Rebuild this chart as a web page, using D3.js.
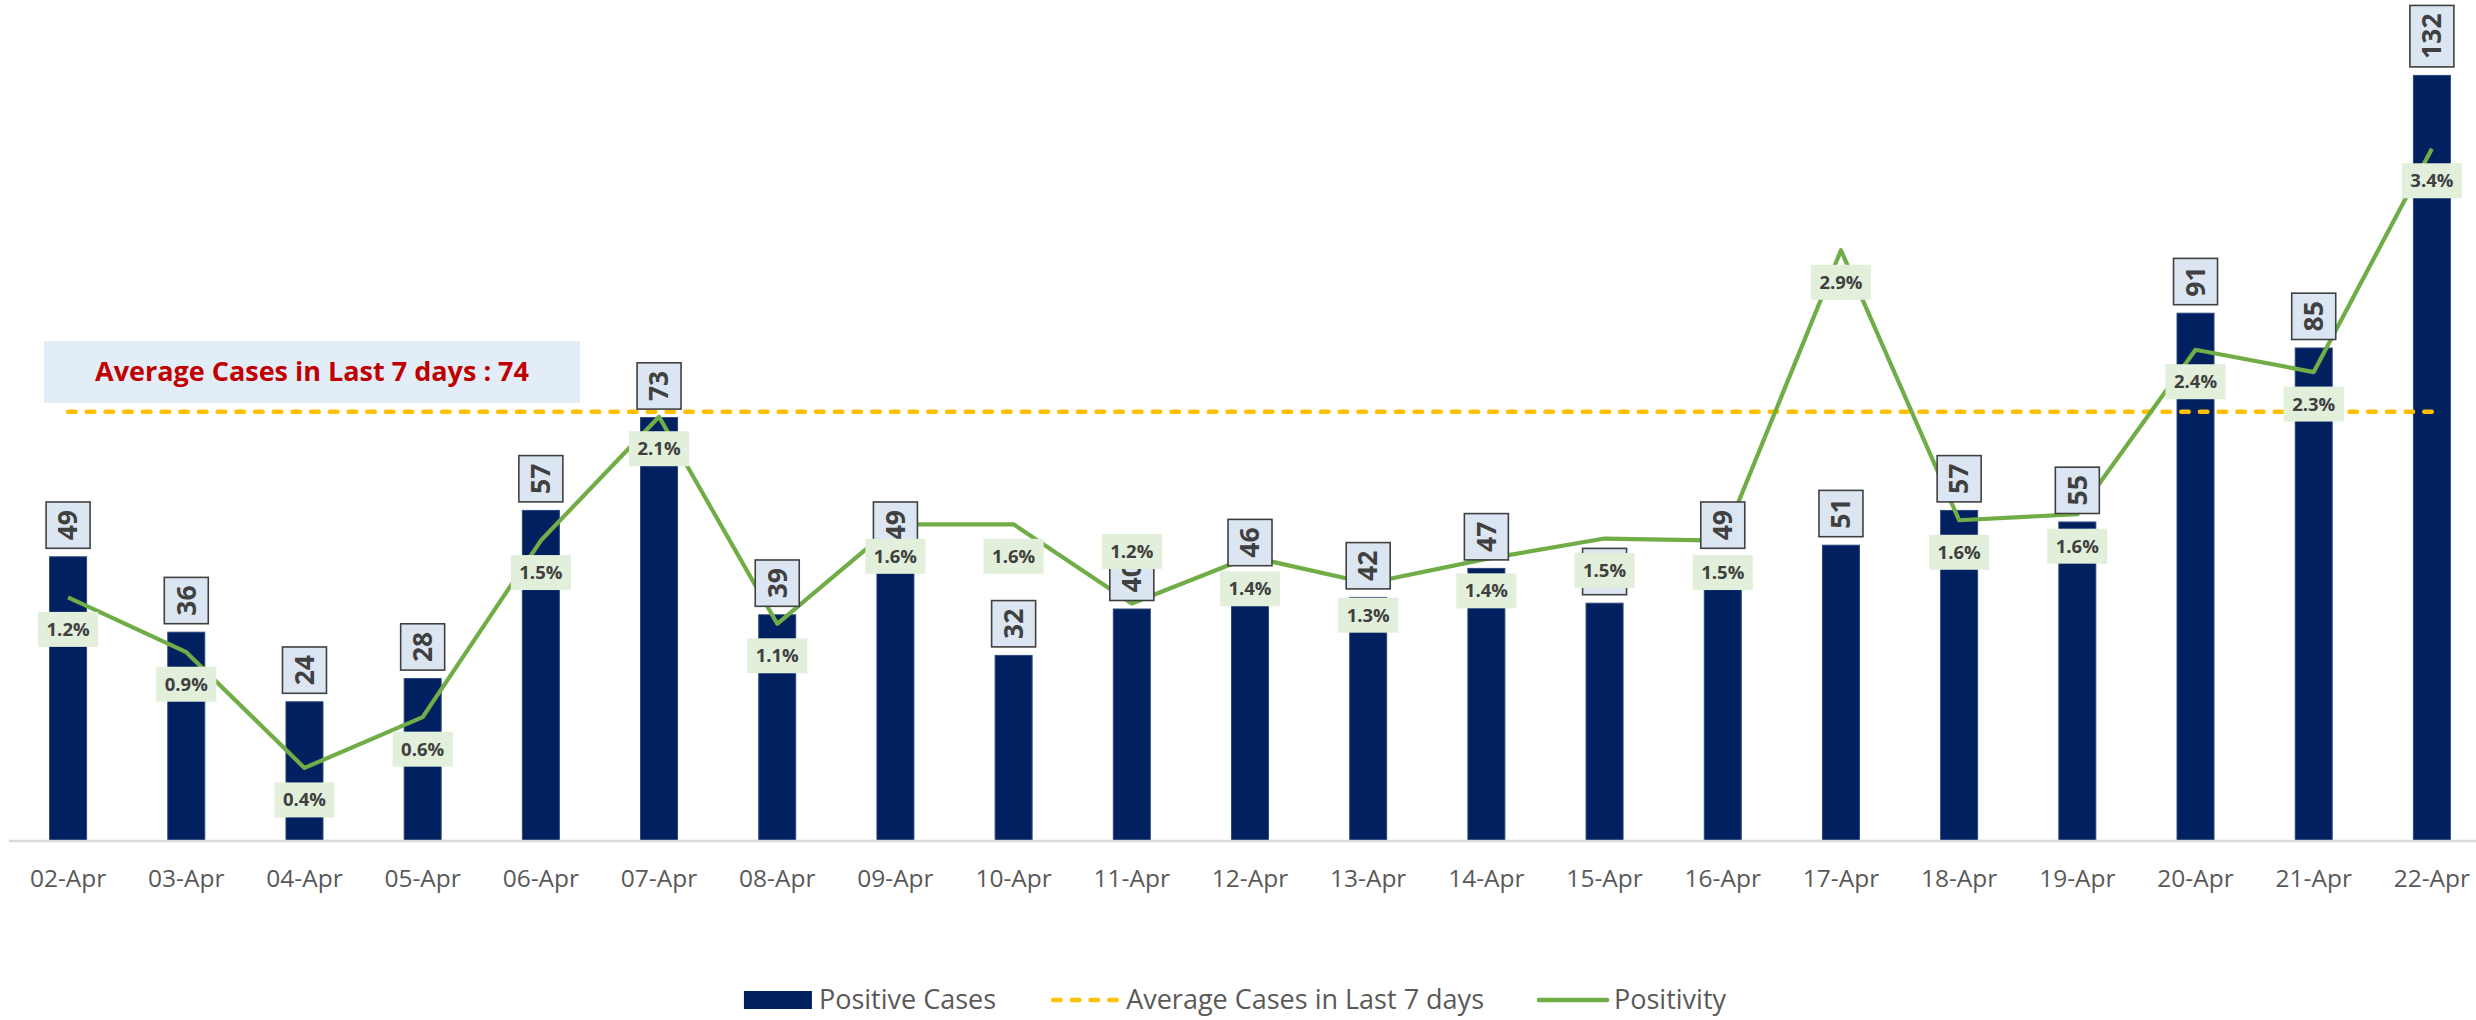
<!DOCTYPE html>
<html>
<head>
<meta charset="utf-8">
<script src="https://cdn.jsdelivr.net/npm/d3@7"></script>
<style>
  html, body { margin: 0; padding: 0; background: #ffffff; }
  svg { display: block; font-family: "Open Sans", "DejaVu Sans", sans-serif; }
</style>
</head>
<body>
<svg id="chart" width="2476" height="1020"></svg>
<script>
// ---- data ----
const categories = ["02-Apr","03-Apr","04-Apr","05-Apr","06-Apr","07-Apr","08-Apr","09-Apr","10-Apr","11-Apr","12-Apr","13-Apr","14-Apr","15-Apr","16-Apr","17-Apr","18-Apr","19-Apr","20-Apr","21-Apr","22-Apr"];
const positiveCases = [49,36,24,28,57,73,39,49,32,40,46,42,47,41,49,51,57,55,91,85,132];
const positivity = [1.20,0.93,0.36,0.61,1.48,2.09,1.07,1.56,1.56,1.17,1.40,1.27,1.39,1.49,1.48,2.91,1.58,1.61,2.42,2.31,3.41];
const averageLast7 = 74;
const averageLabel = "Average Cases in Last 7 days : 74";
const legendLabels = ["Positive Cases","Average Cases in Last 7 days","Positivity"];
const positivityAboveLabels = ["11-Apr"];

// ---- layout ----
const W = 2476, H = 1020;
const baseY = 841, topY = 29;
const svg = d3.select("#chart");

const x = d3.scaleBand().domain(categories).range([9, 2491]).paddingInner(0.687).paddingOuter(0.3435);
const y = d3.scaleLinear().domain([0, 140]).range([baseY, topY]);
const y2 = d3.scaleLinear().domain([0, 4]).range([baseY, topY]);
const cx = d => x(d) + x.bandwidth() / 2;

const COL_BAR = "#002060", COL_LINE = "#70ad47", COL_AVG = "#ffc000";

// bars
svg.append("g").selectAll("rect").data(categories).join("rect")
  .attr("x", d => x(d)).attr("width", x.bandwidth())
  .attr("y", (d, i) => y(positiveCases[i]))
  .attr("height", (d, i) => baseY - y(positiveCases[i]))
  .attr("fill", COL_BAR).attr("stroke", "#2c4779").attr("stroke-width", 1);

// x axis
const axis = svg.append("g").attr("transform", `translate(0,${baseY})`)
  .call(d3.axisBottom(x).tickSize(0).tickPadding(0));
axis.select(".domain").attr("stroke", "#d9d9d9").attr("stroke-width", 2.5).attr("d", `M9,0H${W + 10}`);
axis.selectAll(".tick text").attr("y", 37).attr("dy", "0.35em")
  .attr("font-family", "Open Sans").attr("font-size", 24.5).attr("fill", "#595959");

// average line
svg.append("line")
  .attr("x1", cx(categories[0])).attr("x2", cx(categories[categories.length - 1]))
  .attr("y1", y(averageLast7)).attr("y2", y(averageLast7))
  .attr("stroke", COL_AVG).attr("stroke-width", 4.5)
  .attr("stroke-dasharray", "7.5,11.2").attr("stroke-linecap", "round");

// average label
const avgG = svg.append("g");
avgG.append("rect").attr("x", 44).attr("y", 341).attr("width", 536).attr("height", 62).attr("fill", "#e3edf7");
avgG.append("text").attr("x", 312).attr("y", 372).attr("dy", "0.35em").attr("text-anchor", "middle")
  .attr("font-size", 27).attr("font-weight", 700).attr("fill", "#c00000").text(averageLabel);

// positivity line
svg.append("path")
  .datum(categories)
  .attr("fill", "none").attr("stroke", COL_LINE).attr("stroke-width", 4.2).attr("stroke-linejoin", "round")
  .attr("d", d3.line().x(d => cx(d)).y((d, i) => y2(positivity[i])));

// bar value labels (rotated)
const bl = svg.append("g").selectAll("g").data(categories).join("g");
bl.each(function(d, i) {
  const g = d3.select(this);
  const rect = g.append("rect");
  const t = g.append("text").text(positiveCases[i])
    .attr("font-size", 26.5).attr("font-weight", 700).attr("fill", "#404040")
    .attr("text-anchor", "middle").attr("dy", "0.35em");
  const len = t.node().getComputedTextLength();
  const h = len + 16, w = 44;
  const bottom = y(positiveCases[i]) - 8.5;
  const ccx = cx(d), ccy = bottom - h / 2;
  rect.attr("x", ccx - w / 2).attr("y", bottom - h).attr("width", w).attr("height", h)
    .attr("fill", "#dce6f2").attr("stroke", "#404040").attr("stroke-width", 1.6);
  t.attr("transform", `translate(${ccx},${ccy}) rotate(-90)`);
});

// positivity labels
const pl = svg.append("g").selectAll("g").data(categories).join("g");
pl.each(function(d, i) {
  const g = d3.select(this);
  const rect = g.append("rect");
  const t = g.append("text").text(positivity[i].toFixed(1) + "%")
    .attr("font-size", 18.5).attr("font-weight", 700).attr("fill", "#404040")
    .attr("text-anchor", "middle").attr("dy", "0.35em");
  const len = t.node().getComputedTextLength();
  const w = len + 17, h = 35;
  const py = y2(positivity[i]);
  const ly = positivityAboveLabels.includes(d) ? py - 52 : py + 32;
  rect.attr("x", cx(d) - w / 2).attr("y", ly - h / 2).attr("width", w).attr("height", h).attr("fill", "#e2efda");
  t.attr("x", cx(d)).attr("y", ly);
});

// legend
const leg = svg.append("g");
const legY = 1000;
const symW = 68, symGap = 7, itemGap = 55;
let cursor = 0;
legendLabels.forEach((lab, k) => {
  const g = leg.append("g");
  if (k === 0) {
    g.append("rect").attr("x", 0).attr("y", legY - 9).attr("width", symW).attr("height", 18).attr("fill", COL_BAR);
  } else if (k === 1) {
    g.append("line").attr("x1", 2).attr("x2", symW).attr("y1", legY).attr("y2", legY)
      .attr("stroke", COL_AVG).attr("stroke-width", 4.5).attr("stroke-dasharray", "7.5,11.2").attr("stroke-linecap", "round");
  } else {
    g.append("line").attr("x1", 0).attr("x2", symW).attr("y1", legY).attr("y2", legY)
      .attr("stroke", COL_LINE).attr("stroke-width", 4.5).attr("stroke-linecap", "round");
  }
  const t = g.append("text").attr("x", symW + symGap).attr("y", legY).attr("dy", "0.35em")
    .attr("font-size", 27).attr("fill", "#595959").text(lab);
  const wTot = symW + symGap + t.node().getComputedTextLength();
  g.attr("transform", `translate(${cursor},0)`);
  cursor += wTot + itemGap;
});
const legW = cursor - itemGap;
leg.attr("transform", `translate(${1235 - legW / 2},0)`);
</script>
</body>
</html>
